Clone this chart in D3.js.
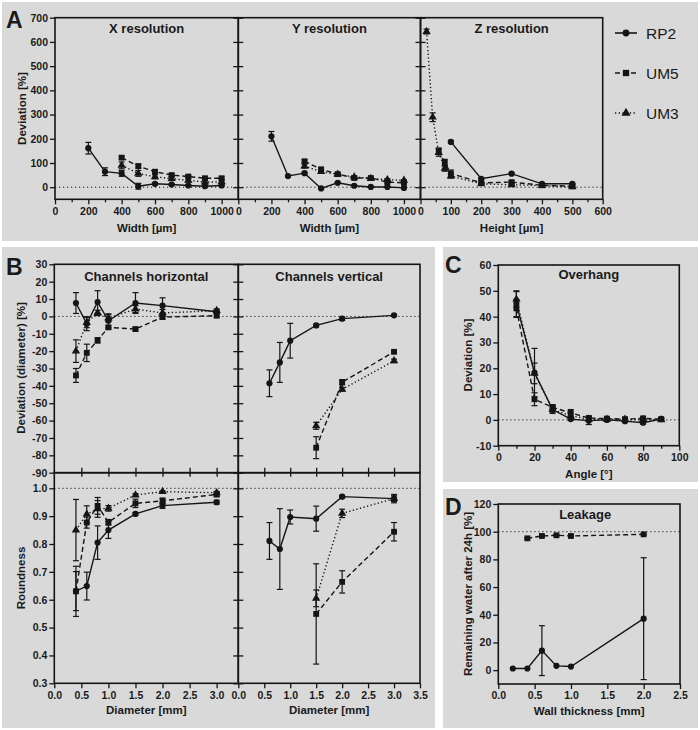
<!DOCTYPE html>
<html><head><meta charset="utf-8">
<script src="https://cdn.jsdelivr.net/npm/d3@7"></script>
<style>
body{margin:0;background:#fff}
text{font-family:"Liberation Sans",Arial,Helvetica,sans-serif;fill:#1a1a1a}
</style>
</head><body><script>
// ---------------- DATA ----------------
const seriesNames = ["RP2", "UM5", "UM3"];

// A: X resolution
const xresWidthRP2 = [200,300,400,500,600,700,800,900,1000];
const xresWidthUM  = [400,500,600,700,800,900,1000];
const xresRP2    = [161,64,57,4,14,11,7,4,7];
const xresRP2Err = [24,16,12,12,4,3,3,3,3];
const xresUM5    = [122,87,64,50,44,37,37];
const xresUM5Err = [6,8,6,6,5,5,5];
const xresUM3    = [90,57,43,35,28,21,22];
const xresUM3Err = [14,12,8,8,6,6,5];

// A: Y resolution
const yresRP2    = [210,46,58,-5,18,6,1,1,-3];
const yresRP2Err = [20,3,4,3,3,2,2,2,2];
const yresUM5    = [107,74,54,38,38,21,18];
const yresUM5Err = [6,6,4,4,4,4,4];
const yresUM3    = [87,64,53,42,36,31,28];
const yresUM3Err = [8,7,4,4,3,4,3];

// A: Z resolution
const zresHeightRP2 = [100,200,300,400,500];
const zresHeightUM5 = [60,80,100,200,300,400,500];
const zresHeightUM3 = [20,40,60,80,100,200,300,400,500];
const zresRP2    = [187,35,56,14,14];
const zresRP2Err = [6,4,3,3,3];
const zresUM5    = [150,101,57,18,21,8,4];
const zresUM5Err = [12,14,14,4,5,3,3];
const zresUM3    = [643,289,143,78,46,14,10,7,1];
const zresUM3Err = [10,18,15,12,8,3,3,3,3];

// B: channels
const chHorDiam     = [0.4,0.6,0.8,1.0,1.5,2.0,3.0];
const chVertDiamRP2 = [0.6,0.8,1.0,1.5,2.0,3.0];
const chVertDiamUM  = [1.5,2.0,3.0];

const chHorDevRP2    = [7.7,-4.2,8.3,-2.5,7.7,6.2,2.7];
const chHorDevRP2Err = [6,4,6.5,4,6,4.5,1];
const chHorDevUM5    = [-34,-21,-13.8,-6.3,-7.3,-0.4,0.4];
const chHorDevUM5Err = [4,5,1.5,1,1,1,1];
const chHorDevUM3    = [-20,-3.5,2,-1,4.2,2,3.3];
const chHorDevUM3Err = [6.5,3,1.5,2,2,2,1];

const chVertDevRP2    = [-38.5,-26.5,-14,-5.2,-1.3,0.6];
const chVertDevRP2Err = [7.7,11.5,10,0.8,1,0.5];
const chVertDevUM5    = [-75.6,-37.9,-20.4];
const chVertDevUM5Err = [6.3,1.5,0.5];
const chVertDevUM3    = [-63,-42,-25.6];
const chVertDevUM3Err = [2,1,1];

const chHorRndRP2    = [0.631,0.649,0.805,0.85,0.908,0.938,0.95];
const chHorRndRP2Err = [0.07,0.05,0.06,0.03,0.005,0.01,0.007];
const chHorRndUM5    = [0.63,0.877,0.937,0.878,0.946,0.955,0.978];
const chHorRndUM5Err = [0.09,0.02,0.03,0.01,0.015,0.01,0.008];
const chHorRndUM3    = [0.85,0.907,0.926,0.928,0.976,0.988,0.984];
const chHorRndUM3Err = [0.11,0.03,0.03,0.01,0.005,0.003,0.005];

const chVertRndRP2    = [0.811,0.782,0.897,0.891,0.970,0.963];
const chVertRndRP2Err = [0.066,0.145,0.025,0.045,0.005,0.015];
const chVertRndUM5    = [0.549,0.664,0.844];
const chVertRndUM5Err = [0.18,0.04,0.033];
const chVertRndUM3    = [0.605,0.91,0.963];
const chVertRndUM3Err = [0.03,0.015,0.01];

// C: overhang
const ohAngle  = [10,20,30,40,50,60,70,80,90];
const ohRP2    = [45,18.3,4,0.3,-0.3,0,-0.5,-1.1,0.3];
const ohRP2Err = [5,9.4,1.5,0.5,1.5,0.5,0.5,0.5,0.5];
const ohUM5    = [43.2,8,4.9,2.7,0.7,0.5,0.3,0.6,0.3];
const ohUM5Err = [3.5,2.5,1,1.3,0.8,0.5,0.5,0.5,0.5];
const ohUM3    = [46.7,18,4,1.6,0.3,0.2,0.2,0.1,0];
const ohUM3Err = [3,4,1,1,0.5,0.5,0.5,0.5,0.5];

// D: leakage
const lkWallRP2 = [0.2,0.4,0.6,0.8,1.0,2.0];
const lkWallUM5 = [0.4,0.6,0.8,1.0,2.0];
const lkRP2     = [1.2,1.2,14.1,3.1,2.6,37.2];
const lkRP2Err  = [0,0,18,0,0,44];
const lkUM5     = [95.2,96.9,97.4,96.9,98.1];
const lkUM5Err  = [0.5,0.5,0.5,0.5,0.5];

// tick values
const aYTicks   = [0,100,200,300,400,500,600,700];
const aWidthTicks = [0,100,200,300,400,500,600,700,800,900,1000];
const aHeightTicks = [0,50,100,150,200,250,300,350,400,450,500,550,600];
const bDevTicks = [30,20,10,0,-10,-20,-30,-40,-50,-60,-70,-80,-90];
const bRndTicks = [0.3,0.4,0.5,0.6,0.7,0.8,0.9,1.0];
const bDiamTicks = [0,0.5,1.0,1.5,2.0,2.5,3.0,3.5];
const cYTicks = [-10,0,10,20,30,40,50,60];
const cXTicks = [0,10,20,30,40,50,60,70,80,90,100];
const dYTicks = [0,20,40,60,80,100,120];
const dXTicks = [0,0.5,1.0,1.5,2.0,2.5];

// ---------------- DRAWING ----------------
const svg = d3.select("body").append("svg").attr("width",700).attr("height",730);
const INK = "#151515";

const styles = {
  RP2: {dash:null,      sym:d3.symbolCircle,   size:30},
  UM5: {dash:"5,3",     sym:d3.symbolSquare,   size:34},
  UM3: {dash:"1.3,2.4", sym:d3.symbolTriangle, size:30}
};

// panel backgrounds
[[2,2,696,239],[2,247,433,481],[443,247,255,235],[443,489,255,239]].forEach(b=>{
  svg.append("rect").attr("x",b[0]).attr("y",b[1]).attr("width",b[2]).attr("height",b[3]).attr("fill","#d9d9d9");
});

function styleAxis(sel){
  sel.select(".domain").remove();
  sel.attr("font-family",null).attr("font-size",null);
  sel.selectAll(".tick line").attr("stroke",INK).attr("stroke-width",1.3);
  sel.selectAll(".tick text").style("font-size","10.5px").style("font-weight","bold").attr("fill","#1a1a1a");
}

function plot(c){
  const x = d3.scaleLinear().domain(c.xd).range([c.x0,c.x1]);
  const y = d3.scaleLinear().domain(c.yd).range([c.y1,c.y0]);
  const g = svg.append("g");
  if (c.ref!=null){
    g.append("line").attr("x1",c.x0).attr("x2",c.x1).attr("y1",y(c.ref)).attr("y2",y(c.ref))
      .attr("stroke",INK).attr("stroke-width",1).attr("stroke-dasharray","1.2,2.8");
  }
  // y axis
  const ya = g.append("g").attr("transform",`translate(${c.x0},0)`)
    .call(d3.axisLeft(y).tickValues(c.yt).tickSize(5).tickPadding(2)
      .tickFormat(c.yLabels ? (c.yf||(d=>d)) : ""));
  styleAxis(ya);
  if (!c.yLabels){
    const yb = g.append("g").attr("transform",`translate(${c.x0},0)`)
      .call(d3.axisRight(y).tickValues(c.yt).tickSize(5).tickFormat(""));
    styleAxis(yb);
  }
  // x axis
  if (c.xt){
    const major = c.xMajor || (()=>true);
    if (c.xMode==="bottom"){
      const xa = g.append("g").attr("transform",`translate(0,${c.y1})`)
        .call(d3.axisBottom(x).tickValues(c.xt).tickSize(5).tickPadding(3)
          .tickFormat(d=> major(d) ? (c.xf? c.xf(d): d) : ""));
      styleAxis(xa);
      xa.selectAll(".tick line").attr("y2",d=>major(d)?5:3);
    } else if (c.xMode==="cross"){
      const xa = g.append("g").attr("transform",`translate(0,${c.y1})`)
        .call(d3.axisBottom(x).tickValues(c.xt).tickSize(4).tickFormat(""));
      styleAxis(xa);
      const xb = g.append("g").attr("transform",`translate(0,${c.y1})`)
        .call(d3.axisTop(x).tickValues(c.xt).tickSize(5).tickFormat(""));
      styleAxis(xb);
    }
  }
  // frame
  g.append("rect").attr("x",c.x0).attr("y",c.y0).attr("width",c.x1-c.x0).attr("height",c.y1-c.y0)
    .attr("fill","none").attr("stroke",INK).attr("stroke-width",1.6);
  // series
  c.series.forEach(s=>{
    const st = styles[s.name];
    const pts = s.x.map((xv,i)=>({x:xv,y:s.y[i],e:s.e?s.e[i]:0}));
    g.append("path").datum(pts)
      .attr("d", d3.line().x(d=>x(d.x)).y(d=>y(d.y)))
      .attr("fill","none").attr("stroke",INK).attr("stroke-width",1.4)
      .attr("stroke-dasharray",st.dash);
    const eb = g.append("g").attr("stroke",INK).attr("stroke-width",1.2);
    pts.filter(d=>d.e>0).forEach(d=>{
      const px=x(d.x), top=y(d.y+d.e), bot=y(d.y-d.e);
      eb.append("line").attr("x1",px).attr("x2",px).attr("y1",top).attr("y2",bot);
      eb.append("line").attr("x1",px-3).attr("x2",px+3).attr("y1",top).attr("y2",top);
      eb.append("line").attr("x1",px-3).attr("x2",px+3).attr("y1",bot).attr("y2",bot);
    });
    g.selectAll(null).data(pts).enter().append("path")
      .attr("d", d3.symbol().type(st.sym).size(st.size))
      .attr("transform",d=>`translate(${x(d.x)},${y(d.y)})`)
      .attr("fill",INK);
  });
  if (c.title){
    g.append("text").attr("x",(c.x0+c.x1)/2 + (c.tdx||0)).attr("y",c.ty).attr("text-anchor","middle")
      .style("font-size","13px").style("font-weight","bold").text(c.title);
  }
  if (c.xLabel){
    g.append("text").attr("x",(c.x0+c.x1)/2).attr("y",c.xly).attr("text-anchor","middle")
      .style("font-size","11.5px").style("font-weight","bold").text(c.xLabel);
  }
  return {x,y};
}

function yTitle(txt, x, yc){
  svg.append("text").attr("transform",`translate(${x},${yc}) rotate(-90)`).attr("text-anchor","middle")
    .attr("dominant-baseline","central")
    .style("font-size","11.5px").style("font-weight","bold").text(txt);
}
function panelLetter(t,x,y){
  svg.append("text").attr("x",x).attr("y",y).style("font-size","23px").style("font-weight","bold").text(t);
}

const mk = (name,x,y,e)=>({name,x,y,e});
const fmt1 = d3.format(".1f");

// ---- Panel A ----
const aY0=17.7, aY1=199.3;
plot({x0:55,x1:238.3,y0:aY0,y1:aY1,xd:[0,1100],yd:[-50,700],yt:aYTicks,yLabels:true,
  xt:aWidthTicks,xMode:"bottom",xMajor:d=>d%200===0,ref:0,title:"X resolution",ty:32.5,
  xLabel:"Width [µm]",xly:232,
  series:[mk("RP2",xresWidthRP2,xresRP2,xresRP2Err),mk("UM5",xresWidthUM,xresUM5,xresUM5Err),mk("UM3",xresWidthUM,xresUM3,xresUM3Err)]});
plot({x0:238.3,x1:420.5,y0:aY0,y1:aY1,xd:[0,1100],yd:[-50,700],yt:aYTicks,yLabels:false,
  xt:aWidthTicks,xMode:"bottom",xMajor:d=>d%200===0,ref:0,title:"Y resolution",ty:32.5,
  xLabel:"Width [µm]",xly:232,
  series:[mk("RP2",xresWidthRP2,yresRP2,yresRP2Err),mk("UM5",xresWidthUM,yresUM5,yresUM5Err),mk("UM3",xresWidthUM,yresUM3,yresUM3Err)]});
plot({x0:420.5,x1:602.7,y0:aY0,y1:aY1,xd:[0,600],yd:[-50,700],yt:aYTicks,yLabels:false,
  xt:aHeightTicks,xMode:"bottom",xMajor:d=>d%100===0,ref:0,title:"Z resolution",ty:32.5,
  xLabel:"Height [µm]",xly:232,
  series:[mk("RP2",zresHeightRP2,zresRP2,zresRP2Err),mk("UM5",zresHeightUM5,zresUM5,zresUM5Err),mk("UM3",zresHeightUM3,zresUM3,zresUM3Err)]});
yTitle("Deviation [%]",22,108.5);
panelLetter("A",6,28);

// legend
seriesNames.forEach((n,i)=>{
  const st=styles[n], ly=33+i*40;
  svg.append("line").attr("x1",615).attr("x2",637).attr("y1",ly).attr("y2",ly)
    .attr("stroke",INK).attr("stroke-width",1.6).attr("stroke-dasharray",st.dash);
  svg.append("path").attr("d",d3.symbol().type(st.sym).size(st.size+6)).attr("transform",`translate(626,${ly})`).attr("fill",INK);
  svg.append("text").attr("x",646).attr("y",ly+5.5).style("font-size","15.5px").text(n);
});

// ---- Panel B ----
const bY0=264.3, bYm=472.7, bY1=683.3;
plot({x0:54.3,x1:238.3,y0:bY0,y1:bYm,xd:[0,3.4],yd:[-90,30],yt:bDevTicks,yLabels:true,
  xt:bDiamTicks.filter(d=>d>0&&d<3.4),xMode:"cross",ref:0,title:"Channels horizontal",ty:281,
  series:[mk("RP2",chHorDiam,chHorDevRP2,chHorDevRP2Err),mk("UM5",chHorDiam,chHorDevUM5,chHorDevUM5Err),mk("UM3",chHorDiam,chHorDevUM3,chHorDevUM3Err)]});
plot({x0:238.3,x1:420,y0:bY0,y1:bYm,xd:[0,3.5],yd:[-90,30],yt:bDevTicks,yLabels:false,
  xt:bDiamTicks.filter(d=>d>0&&d<3.5),xMode:"cross",ref:0,title:"Channels vertical",ty:281,
  series:[mk("RP2",chVertDiamRP2,chVertDevRP2,chVertDevRP2Err),mk("UM5",chVertDiamUM,chVertDevUM5,chVertDevUM5Err),mk("UM3",chVertDiamUM,chVertDevUM3,chVertDevUM3Err)]});
plot({x0:54.3,x1:238.3,y0:bYm,y1:bY1,xd:[0,3.4],yd:[0.3,1.056],yt:bRndTicks,yLabels:true,yf:fmt1,
  xt:bDiamTicks.filter(d=>d<3.4),xMode:"bottom",xf:fmt1,ref:1.0,xLabel:"Diameter [mm]",xly:714,
  series:[mk("RP2",chHorDiam,chHorRndRP2,chHorRndRP2Err),mk("UM5",chHorDiam,chHorRndUM5,chHorRndUM5Err),mk("UM3",chHorDiam,chHorRndUM3,chHorRndUM3Err)]});
plot({x0:238.3,x1:420,y0:bYm,y1:bY1,xd:[0,3.5],yd:[0.3,1.056],yt:bRndTicks,yLabels:false,
  xt:bDiamTicks,xMode:"bottom",xf:fmt1,ref:1.0,xLabel:"Diameter [mm]",xly:714,
  series:[mk("RP2",chVertDiamRP2,chVertRndRP2,chVertRndRP2Err),mk("UM5",chVertDiamUM,chVertRndUM5,chVertRndUM5Err),mk("UM3",chVertDiamUM,chVertRndUM3,chVertRndUM3Err)]});
yTitle("Deviation (diameter) [%]",20.7,368);
yTitle("Roundness",20.7,578);
panelLetter("B",6,275);

// ---- Panel C ----
plot({x0:498.3,x1:679.3,y0:265,y1:445.7,xd:[0,100],yd:[-10,60],yt:cYTicks,yLabels:true,
  xt:cXTicks,xMode:"bottom",xMajor:d=>d%20===0,ref:0,title:"Overhang",ty:279,
  xLabel:"Angle [°]",xly:477.5,
  series:[mk("RP2",ohAngle,ohRP2,ohRP2Err),mk("UM5",ohAngle,ohUM5,ohUM5Err),mk("UM3",ohAngle,ohUM3,ohUM3Err)]});
yTitle("Deviation [%]",468,355);
panelLetter("C",445,273);

// ---- Panel D ----
plot({x0:498.3,x1:680,y0:504,y1:684,xd:[0,2.5],yd:[-10,120],yt:dYTicks,yLabels:true,
  xt:dXTicks,xMode:"bottom",xf:fmt1,ref:100,title:"Leakage",ty:519,tdx:-4,
  xLabel:"Wall thickness [mm]",xly:715,
  series:[mk("RP2",lkWallRP2,lkRP2,lkRP2Err),mk("UM5",lkWallUM5,lkUM5,lkUM5Err)]});
yTitle("Remaining water after 24h [%]",468,594);
panelLetter("D",445,515);
</script></body></html>
